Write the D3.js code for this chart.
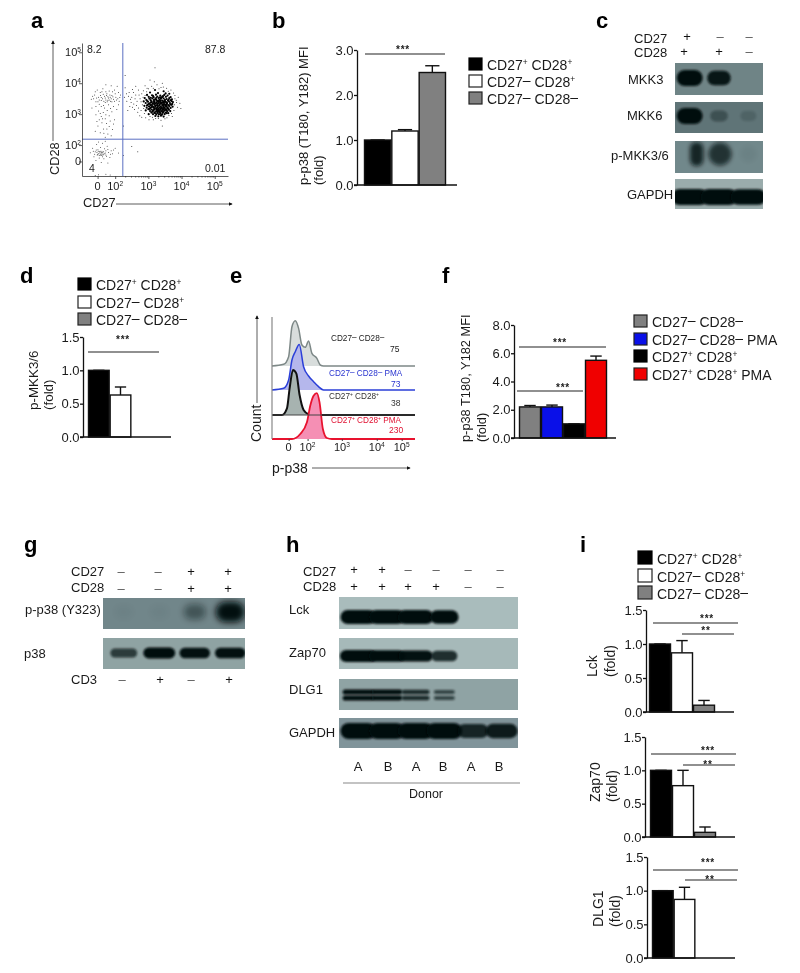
<!DOCTYPE html>
<html>
<head>
<meta charset="utf-8">
<script src="https://cdn.jsdelivr.net/npm/d3@7"></script>
<style>
body { margin: 0; background: #fff; }
svg { opacity: 0.999; }
text { font-family: "Liberation Sans", Arial, sans-serif; fill: #1a1a1a; }
</style>
</head>
<body>
<script>
// panel a, flow plot. all dots in decades on both axes, read by eye
var flowCore = [
[3.2,3.78],[3.46,3.74],[3.05,3.7],[3.29,3.68],[3.52,3.67],[3.63,3.66],[2.96,3.62],[3.11,3.61],[3.23,3.63],[3.36,3.6],[3.48,3.62],[3.58,3.6],
[3.01,3.56],[3.16,3.55],[3.27,3.57],[3.41,3.55],[3.53,3.56],[3.67,3.55],[2.89,3.52],[3.03,3.5],[3.12,3.51],[3.21,3.49],[3.31,3.52],[3.38,3.5],[3.46,3.51],[3.55,3.49],[3.63,3.52],[3.71,3.48],
[2.94,3.46],[3.07,3.45],[3.17,3.46],[3.25,3.44],[3.34,3.46],[3.42,3.44],[3.5,3.46],[3.59,3.44],[3.68,3.45],[2.86,3.41],[2.99,3.4],[3.1,3.41],[3.19,3.39],[3.28,3.41],[3.36,3.39],[3.45,3.41],[3.53,3.39],[3.62,3.41],[3.74,3.39],
[2.92,3.36],[3.04,3.35],[3.14,3.36],[3.22,3.34],[3.31,3.36],[3.39,3.34],[3.48,3.36],[3.56,3.34],[3.65,3.36],[3.72,3.33],[2.98,3.31],[3.08,3.3],[3.18,3.31],[3.26,3.29],[3.34,3.31],[3.42,3.29],[3.51,3.31],[3.6,3.29],[3.69,3.3],
[2.88,3.27],[3.02,3.25],[3.12,3.26],[3.21,3.24],[3.29,3.26],[3.37,3.24],[3.46,3.26],[3.54,3.24],[3.63,3.26],[3.73,3.24],[2.95,3.21],[3.06,3.2],[3.16,3.21],[3.24,3.19],[3.33,3.21],[3.41,3.19],[3.49,3.21],[3.58,3.19],[3.67,3.2],
[3.0,3.16],[3.1,3.15],[3.19,3.16],[3.28,3.14],[3.36,3.16],[3.44,3.14],[3.53,3.16],[3.62,3.14],[2.92,3.12],[3.05,3.1],[3.14,3.11],[3.23,3.09],[3.31,3.11],[3.39,3.09],[3.48,3.11],[3.57,3.09],[3.66,3.1],
[3.09,3.05],[3.18,3.06],[3.27,3.04],[3.35,3.06],[3.43,3.04],[3.52,3.05],[3.6,3.03],[3.01,3.0],[3.14,3.0],[3.24,2.99],[3.32,3.0],[3.41,2.98],[3.49,3.0],[3.21,2.94],[3.3,2.93],[3.38,2.95],[3.46,2.92],
[3.13,3.33],[3.25,3.37],[3.33,3.28],[3.44,3.32],[3.4,3.22],[3.3,3.17],[3.21,3.27],[3.35,3.13],[3.47,3.17],[3.16,3.13],[3.26,3.11],[3.41,3.1],[3.52,3.27],[3.58,3.22],[3.46,3.37],[3.3,3.44],[3.37,3.43],[3.15,3.23],[3.07,3.28],[3.55,3.12],
[3.08,3.38],[3.17,3.42],[3.23,3.47],[3.32,3.4],[3.41,3.37],[3.5,3.42],[3.56,3.37],[3.61,3.47],[3.66,3.32],[3.1,3.23],[3.19,3.19],[3.27,3.22],[3.38,3.19],[3.45,3.23],[3.51,3.14],[3.6,3.17],[3.04,3.17],[3.12,3.08],[3.2,3.03],[3.29,3.08],
[3.37,3.01],[3.45,3.07],[3.55,3.03],[3.24,3.53],[3.35,3.54],[3.44,3.58],[3.14,3.59],[3.07,3.53],[2.96,3.28],[2.97,3.42],[3.02,3.33],[3.7,3.42],[3.25,3.16],[3.33,3.07],[3.42,3.15],[3.18,3.36],[3.28,3.33],[3.36,3.35],[3.47,3.3],[3.55,3.3]
];
var flowMid = [
[2.3,3.85],[2.42,3.7],[2.5,3.55],[2.35,3.42],[2.56,3.33],[2.44,3.25],[2.62,3.62],[2.7,3.78],[2.66,3.42],[2.75,3.5],[2.8,3.66],[2.58,3.15],[2.7,3.2],[2.82,3.3],[2.78,3.12],[2.88,3.02],[2.74,2.95],[2.92,2.88],[3.02,2.82],
[2.52,3.8],[2.38,3.12],[2.28,3.55],[2.85,3.76],[2.96,3.84],[2.9,3.92],[3.1,3.9],[3.26,3.95],[3.38,3.86],[3.55,3.84],[3.68,3.78],[3.8,3.6],[3.84,3.45],[3.79,3.3],[3.88,3.22],[3.77,3.12],[3.7,3.02],[3.62,2.96],[3.5,2.85],[3.38,2.8],[3.22,2.86],[3.12,2.9],
[3.2,4.5],[3.05,4.1],[2.3,4.25],[3.42,2.62],[2.5,1.95],[2.68,1.78],[3.95,3.35],[2.25,2.62],[3.18,4.05],
[2.34,3.66],[2.46,3.48],[2.55,3.7],[2.6,3.5],[2.64,3.28],[2.72,3.62],[2.78,3.4],[2.84,3.55],[2.86,3.18],[2.48,3.38],[2.4,3.58],[2.52,3.22],[2.68,3.06],[2.8,2.9],[2.95,3.72],[3.0,3.82],[3.15,3.84],[3.32,3.82],[3.45,3.88],[3.6,3.74],
[3.76,3.68],[3.8,3.5],[3.85,3.38],[3.72,2.92],[3.56,2.88],[3.3,2.86],[3.15,2.82],[3.05,2.92],[2.85,3.42],[2.9,3.6],[3.9,3.55],[3.98,3.18],[3.42,4.0],[2.62,3.9]
];
var flowLeft = [
[1.28,3.48],[1.38,3.62],[1.42,3.4],[1.5,3.55],[1.55,3.7],[1.58,3.44],[1.63,3.82],[1.68,3.58],[1.72,3.46],[1.75,3.66],[1.8,3.52],[1.82,3.75],[1.86,3.42],[1.9,3.6],[1.95,3.48],[1.98,3.78],[2.02,3.55],[2.06,3.9],[2.12,3.42],[2.16,3.62],
[1.46,3.78],[1.62,3.5],[1.7,3.38],[1.78,3.45],[1.85,3.55],[1.92,3.72],[2.08,3.5],[1.35,3.5],[1.52,3.32],[1.65,3.28],[1.8,3.3],[1.95,3.25],[2.1,3.7],[1.88,3.92],[1.72,3.95],
[1.42,2.98],[1.5,3.1],[1.58,2.92],[1.64,3.05],[1.7,2.85],[1.76,3.12],[1.82,2.95],[1.9,3.08],[1.98,2.82],[1.74,2.7],[1.6,2.72],[1.48,2.62],[1.82,2.6],[1.92,2.5],[1.65,2.52],[1.55,2.4],[1.78,2.36],[1.88,2.3],[1.4,2.45],[1.7,2.25],[2.05,3.15],[1.3,3.2],
[1.32,3.58],[1.44,3.52],[1.52,3.46],[1.56,3.6],[1.6,3.72],[1.66,3.42],[1.7,3.52],[1.74,3.6],[1.78,3.56],[1.76,3.4],[1.84,3.62],[1.88,3.5],[1.93,3.56],[1.98,3.42],[2.04,3.46],[2.0,3.66],[1.58,3.54],[1.64,3.64],[1.82,3.46],[1.72,3.72],
[1.48,3.4],[1.4,3.72],[1.9,3.4],[2.14,3.54],[1.68,3.2],[1.86,3.18],[1.55,3.02],[1.72,2.98],[1.85,2.78],[1.62,2.85],[1.95,2.68],[1.52,2.82],[1.75,2.52],[1.66,2.38],[1.45,2.76],[1.58,3.25],[2.1,3.3],[1.42,3.25]
];
var flowLow = [
[1.25,1.75],[1.32,1.9],[1.36,1.62],[1.4,1.78],[1.44,2.02],[1.46,1.68],[1.48,1.85],[1.52,1.58],[1.54,1.74],[1.56,1.92],[1.58,1.66],[1.6,1.8],[1.62,2.06],[1.64,1.7],[1.66,1.56],[1.68,1.88],[1.7,1.74],[1.74,1.64],[1.76,1.96],[1.8,1.76],[1.84,1.6],[1.88,1.82],[1.92,1.72],[2.0,1.9],[2.1,1.74],[2.25,1.66],
[1.5,1.72],[1.55,1.8],[1.6,1.72],[1.65,1.78],[1.45,1.76],[1.52,1.66],[1.58,1.76],[1.62,1.62],[1.72,1.82],[1.42,1.5],[1.58,1.44],[1.78,1.42],[1.5,2.1],[1.7,2.12],
[1.4,1.02],[1.5,1.04],[1.72,1.06],[1.85,1.03],
[1.47,1.7],[1.53,1.78],[1.57,1.7],[1.61,1.76],[1.49,1.8],[1.55,1.68],[1.63,1.68],[1.67,1.72],[1.43,1.84],[1.38,1.7],[1.72,1.68],[1.78,1.86],[1.34,1.8],[1.86,1.7],[1.95,1.84]
];
var flowTicks = [1.47, 2, 3, 4, 5];
var flowTickLabels = ['0', '10^2', '10^3', '10^4', '10^5'];
var flowGate = [2.23, 2.19];
var quadrantLabels = ['8.2', '87.8', '4', '0.01'];

// bar panels
var labelsBD = ['CD27^+ CD28^+', 'CD27– CD28^+', 'CD27– CD28–'];
var labelsF = ['CD27– CD28–', 'CD27– CD28– PMA', 'CD27^+ CD28^+', 'CD27^+ CD28^+ PMA'];
var barColors = ['#000', '#fff', '#808080'];
var barColorsF = ['#808080', '#0a10e8', '#000', '#f00000'];

var bValues = [1.0, 1.2, 2.5];
var bErrors = [1.0, 1.23, 2.65];
var bTicks = [0, 1, 2, 3];
var dValues = [1.0, 0.63, null];
var dErrors = [1.0, 0.75, null];
var fValues = [2.2, 2.2, 1.0, 5.5];
var fErrors = [2.3, 2.33, 1.0, 5.8];
var fTicks = [0, 2, 4, 6, 8];
var foldTicks = [0, 0.5, 1, 1.5];
var lckValues = [1.0, 0.87, 0.1];
var lckErrors = [1.0, 1.05, 0.17];
var zapValues = [1.0, 0.77, 0.07];
var zapErrors = [1.0, 1.0, 0.15];
var dlgValues = [1.0, 0.87, null];
var dlgErrors = [1.0, 1.05, null];

// panel e histograms, [channel, count]
var histGrey = [[0,0],[35,5],[50,28],[60,118],[70,136],[80,113],[90,63],[100,56],[110,75],[120,38],[135,23],[145,3],[155,0],[430,0]];
var histBlue = [[0,0],[35,5],[50,30],[60,90],[70,115],[82,137],[95,70],[110,42],[125,25],[140,10],[155,0],[430,0]];
var histBlack = [[0,0],[30,0],[45,20],[53,80],[63,135],[73,125],[83,60],[95,15],[110,2],[120,0],[430,0]];
var histRed = [[0,0],[60,0],[85,15],[105,50],[115,100],[125,130],[135,138],[143,110],[153,30],[165,3],[180,0],[430,0]];
var histTicks = [50, 107, 210, 315, 390];
var histTickLabels = ['0', '10^2', '10^3', '10^4', '10^5'];

// blots, band strength per lane
var cLanesCD27 = ['+', '–', '–'];
var cLanesCD28 = ['+', '+', '–'];
var mkk3 = [1, 0.8, 0];
var mkk6 = [1, 0.3, 0.14];
var pMkk = [0.7, 0.6, 0.04];
var gapdhC = [1, 1, 0.95];

var gLanesCD27 = ['–', '–', '+', '+'];
var gLanesCD28 = ['–', '–', '+', '+'];
var gLanesCD3 = ['–', '+', '–', '+'];
var pP38 = [0.03, 0.03, 0.35, 0.85];
var p38 = [0.6, 0.95, 0.85, 0.85];

var hLanesCD27 = ['+', '+', '–', '–', '–', '–'];
var hLanesCD28 = ['+', '+', '+', '+', '–', '–'];
var hDonors = ['A', 'B', 'A', 'B', 'A', 'B'];
var lck = [1, 1, 1, 0.95, 0, 0];
var zap70 = [1, 0.95, 0.85, 0.7, 0, 0];
var dlg1 = [0.95, 0.9, 0.7, 0.55, 0, 0];
var gapdhH = [1, 1, 1, 1, 0.72, 0.78];

var svg = d3.select('body').append('svg').attr('width', 800).attr('height', 973);
var defs = svg.append('defs');

[1.3, 2, 3.2].forEach(function(s, i) {
  defs.append('filter').attr('id', 'blur' + i)
  .attr('x', '-40%').attr('y', '-80%').attr('width', '180%').attr('height', '260%')
  .append('feGaussianBlur').attr('stdDeviation', s);
});

var arrowHead = defs.append('marker').attr('id', 'head')
.attr('viewBox', '0 0 6 6').attr('refX', 5).attr('refY', 3)
.attr('markerWidth', 5).attr('markerHeight', 5).attr('orient', 'auto');
arrowHead.append('path').attr('d', 'M0,0L6,3L0,6Z').attr('fill', '#111');

// '^' puts the next char up small, a dash goes up a little
var richText = function(sel, str, size) {
  sel.attr('font-size', size);
  var parts = str.match(/\^.|–|[^\^–]+/g);
  parts.forEach(function(p) {
    if (p[0] === '^') {
      sel.append('tspan').text(p[1]).attr('font-size', size * 0.6).attr('baseline-shift', size * 0.36);
    } else if (p === '–') {
      sel.append('tspan').text(p).attr('baseline-shift', size * 0.16);
    } else {
      sel.append('tspan').text(p);
    }
  });
  return sel;
};

var put = function(x, y, str, size, anchor, color) {
  var t = svg.append('text').attr('x', x).attr('y', y).attr('text-anchor', anchor || 'start');
  richText(t, str, size);
  if (color) t.style('fill', color);
  return t;
};

var putUp = function(x, y, str, size) {
  return svg.append('text').attr('transform', 'translate(' + x + ',' + y + ') rotate(-90)')
  .attr('font-size', size).text(str);
};

var arrow = function(x1, y1, x2, y2) {
  svg.append('line').attr('x1', x1).attr('y1', y1).attr('x2', x2).attr('y2', y2)
  .attr('stroke', '#333').attr('stroke-width', 0.8).attr('marker-end', 'url(#head)');
};

// panel letters
[['a', 31, 28], ['b', 272, 28], ['c', 596, 28], ['d', 20, 283], ['e', 230, 283], ['f', 442, 283], ['g', 24, 552], ['h', 286, 552], ['i', 580, 552]].forEach(function(l) {
  svg.append('text').attr('x', l[1]).attr('y', l[2]).attr('font-size', 22).attr('font-weight', 'bold').style('fill', '#000').text(l[0]);
});

var legend = function(labels, colors, x, ys, swatch, textX, size) {
  labels.forEach(function(lab, i) {
    svg.append('rect').attr('x', x).attr('y', ys[i] - swatch + 1).attr('width', swatch).attr('height', swatch - 1)
    .attr('fill', colors[i]).attr('stroke', colors[i] === '#000' ? '#000' : '#222').attr('stroke-width', 1.2);
    put(textX, ys[i], lab, size);
  });
};

var barChart = function(o) {
  var y = d3.scaleLinear().domain([0, o.top]).range([o.y0, o.y1]);
  var x = d3.scaleBand().domain(d3.range(o.values.length)).range(o.bars);
  var g = svg.append('g');

  var points = o.values.map(function(v, i) { return {v: v, e: o.errors[i], i: i}; }).filter(function(d) { return d.v !== null; });

  var cap = x.bandwidth() * 0.26;
  g.selectAll('line.err').data(points).enter().append('line').attr('class', 'err')
  .attr('x1', function(d) { return x(d.i) + x.bandwidth() / 2; })
  .attr('x2', function(d) { return x(d.i) + x.bandwidth() / 2; })
  .attr('y1', function(d) { return y(d.v); })
  .attr('y2', function(d) { return y(d.e); })
  .attr('stroke', '#111').attr('stroke-width', 1.4);
  g.selectAll('line.cap').data(points).enter().append('line').attr('class', 'cap')
  .attr('x1', function(d) { return x(d.i) + x.bandwidth() / 2 - cap; })
  .attr('x2', function(d) { return x(d.i) + x.bandwidth() / 2 + cap; })
  .attr('y1', function(d) { return y(d.e); })
  .attr('y2', function(d) { return y(d.e); })
  .attr('stroke', '#111').attr('stroke-width', 1.4);

  g.selectAll('rect').data(points).enter().append('rect')
  .attr('x', function(d) { return x(d.i) + 0.5; })
  .attr('y', function(d) { return y(d.v); })
  .attr('width', x.bandwidth() - 1)
  .attr('height', function(d) { return y(0) - y(d.v); })
  .attr('fill', function(d) { return o.colors[d.i]; })
  .attr('stroke', '#111').attr('stroke-width', 1.4);

  var yAxis = d3.axisLeft(y).tickValues(o.ticks).tickFormat(d3.format('.1f')).tickSize(3).tickPadding(0.5).tickSizeOuter(0);
  var ax = g.append('g').attr('transform', 'translate(' + o.axisX + ',0)').call(yAxis);
  ax.selectAll('text').attr('font-size', o.fontSize || 13).style('fill', '#1a1a1a');
  ax.selectAll('line,path').attr('stroke', '#111').attr('stroke-width', 1.3);

  g.append('line').attr('x1', o.axisX - 3).attr('x2', o.xEnd).attr('y1', y(0)).attr('y2', y(0))
  .attr('stroke', '#111').attr('stroke-width', 1.3);

  o.sig.forEach(function(s) {
    g.append('line').attr('x1', s[0]).attr('x2', s[1]).attr('y1', s[2]).attr('y2', s[2])
    .attr('stroke', '#222').attr('stroke-width', 1.2);
    g.append('text').attr('x', s[3]).attr('y', s[2] + s[4]).attr('text-anchor', 'middle')
    .attr('font-size', 10).attr('letter-spacing', 0.8).attr('font-weight', 'bold').text(s[5]);
  });
};

// ---- a
var fx = d3.scaleLinear().domain([1, 5.4]).range([82, 228]);
var fy = d3.scaleLinear().domain([1, 5.3]).range([176, 43]);

var dots = function(list, r, color) {
  svg.append('g').selectAll('circle').data(list).enter().append('circle')
  .attr('cx', function(d) { return fx(d[0]); })
  .attr('cy', function(d) { return fy(d[1]); })
  .attr('r', r).attr('fill', color);
};
dots(flowLeft, 0.5, '#333');
dots(flowLow, 0.5, '#444');
dots(flowMid, 0.5, '#222');
dots(flowCore, 1.1, '#000');

svg.append('line').attr('x1', fx(flowGate[0])).attr('x2', fx(flowGate[0])).attr('y1', fy(5.3)).attr('y2', fy(1))
.attr('stroke', '#5b6fc2').attr('stroke-width', 1);
svg.append('line').attr('x1', fx(1)).attr('x2', fx(5.4)).attr('y1', fy(flowGate[1])).attr('y2', fy(flowGate[1]))
.attr('stroke', '#5b6fc2').attr('stroke-width', 1);

var minors = [];
[2, 3, 4].forEach(function(d) {
  [2, 3, 4, 5, 6, 7, 8, 9].forEach(function(m) { minors.push(d + Math.log10(m)); });
});

var flowYAxis = svg.append('g').attr('transform', 'translate(' + fx(1) + ',0)')
.call(d3.axisLeft(fy).tickValues(flowTicks).tickFormat('').tickSize(3).tickSizeOuter(0));
var flowXAxis = svg.append('g').attr('transform', 'translate(0,' + fy(1) + ')')
.call(d3.axisBottom(fx).tickValues(flowTicks).tickFormat('').tickSize(3).tickSizeOuter(0));
var flowXMinor = svg.append('g').attr('transform', 'translate(0,' + fy(1) + ')')
.call(d3.axisBottom(fx).tickValues(minors).tickFormat('').tickSize(1.5).tickSizeOuter(0));
flowXMinor.select('path').remove();
[flowYAxis, flowXAxis, flowXMinor].forEach(function(a) {
  a.selectAll('line,path').attr('stroke', '#333').attr('stroke-width', 0.8);
});

flowTicks.forEach(function(t, i) {
  put(fx(t), 190, flowTickLabels[i], 11, 'middle');
  put(fx(1) - 1, fy(t) + 4, flowTickLabels[i], 11, 'end');
});
put(87, 53, quadrantLabels[0], 10.5);
put(205, 53, quadrantLabels[1], 10.5);
put(89, 172, quadrantLabels[2], 10.5);
put(205, 172, quadrantLabels[3], 10.5);
put(83, 207, 'CD27', 12.8);
arrow(116, 204, 232, 204);
putUp(59, 175, 'CD28', 12.8);
arrow(53, 141, 53, 41);

// ---- b
barChart({values: bValues, errors: bErrors, colors: barColors, ticks: bTicks, top: 3, y0: 185, y1: 50,
  bars: [364, 446], axisX: 357, xEnd: 457, sig: [[365, 445, 54, 403, -1.5, '***']]});
legend(labelsBD, barColors, 469, [70, 87, 104], 13, 487, 14);
putUp(308, 185, 'p-p38 (T180, Y182) MFI', 13);
putUp(323, 185, '(fold)', 13);

// ---- d
barChart({values: dValues, errors: dErrors, colors: barColors, ticks: foldTicks, top: 1.5, y0: 437, y1: 337,
  bars: [88, 153], axisX: 83, xEnd: 171, sig: [[88, 159, 352, 123, -9.5, '***']]});
legend(labelsBD, barColors, 78, [290, 308, 325], 13, 96, 14);
putUp(38, 410, 'p-MKK3/6', 13.4);
putUp(53, 410, '(fold)', 13.4);

// ---- e
var hx = d3.scaleLinear().domain([0, 430]).range([272, 415]);
var histH = d3.scaleLinear().domain([0, 100]).range([0, 33.3]);

var histo = function(data, base, fill, stroke, sw) {
  var area = d3.area().x(function(d) { return hx(d[0]); }).y0(base).y1(function(d) { return base - histH(d[1]); }).curve(d3.curveMonotoneX);
  var line = d3.line().x(function(d) { return hx(d[0]); }).y(function(d) { return base - histH(d[1]); }).curve(d3.curveMonotoneX);
  svg.append('path').datum(data).attr('d', area).attr('fill', fill);
  svg.append('path').datum(data).attr('d', line).attr('fill', 'none').attr('stroke', stroke).attr('stroke-width', sw);
};
histo(histGrey, 366, '#d8dddc', '#7d8887', 1.5);
histo(histBlue, 390, '#b5b7ec', '#2b3fd8', 1.5);
histo(histBlack, 415, '#a7b3b0', '#111', 2);
histo(histRed, 439, '#f58fb4', '#e8122e', 1.8);
svg.append('line').attr('x1', hx(0)).attr('x2', hx(430)).attr('y1', 415).attr('y2', 415).attr('stroke', '#444').attr('stroke-width', 1.2);
svg.append('line').attr('x1', 272).attr('x2', 272).attr('y1', 317).attr('y2', 439).attr('stroke', '#888').attr('stroke-width', 1.2);

var histAxis = svg.append('g').attr('transform', 'translate(0,439)')
.call(d3.axisBottom(hx).tickValues(histTicks).tickFormat('').tickSize(2).tickSizeOuter(0));
histAxis.selectAll('line').attr('stroke', '#444');
histAxis.select('path').remove();
histTicks.forEach(function(t, i) {
  put(hx(t), 451, histTickLabels[i], 11, 'middle');
});

put(331, 341, 'CD27– CD28–', 8.2);
put(390, 352, '75', 8.5);
put(329, 376, 'CD27– CD28– PMA', 8.2, 'start', '#2a35d0');
put(391, 387, '73', 8.5, 'start', '#2a35d0');
put(329, 399, 'CD27^+ CD28^+', 8.2, 'start', '#333');
put(391, 406, '38', 8.5, 'start', '#333');
put(331, 423, 'CD27^+ CD28^+ PMA', 8.2, 'start', '#e01030');
put(389, 433, '230', 8.5, 'start', '#e01030');
putUp(261, 442, 'Count', 14);
arrow(257, 403, 257, 316);
put(272, 473, 'p-p38', 14);
arrow(312, 468, 410, 468);

// ---- f
barChart({values: fValues, errors: fErrors, colors: barColorsF, ticks: fTicks, top: 8, y0: 438, y1: 325,
  bars: [519, 607], axisX: 514, xEnd: 616, sig: [[519, 606, 347, 560, -1.5, '***'], [517, 583, 391, 563, -0.5, '***']]});
legend(labelsF, barColorsF, 634, [327, 345, 362, 380], 13, 652, 14);
putUp(470, 442, 'p-p38 T180, Y182 MFI', 12.8);
putUp(486, 442, '(fold)', 12.8);

// ---- i
var iCharts = [
  {values: lckValues, errors: lckErrors, axisX: 646, y0: 712, y1: 610, bars: [649, 715], xEnd: 734, sig: [[653, 738, 623, 707, -1.5, '***'], [682, 734, 634, 706, -0.5, '**']], name: 'Lck', lx: 597, fx: 615, ly: 677},
  {values: zapValues, errors: zapErrors, axisX: 645, y0: 837, y1: 737, bars: [650, 716], xEnd: 735, sig: [[651, 736, 754, 708, -0.5, '***'], [683, 735, 765, 708, 2.5, '**']], name: 'Zap70', lx: 600, fx: 617, ly: 802},
  {values: dlgValues, errors: dlgErrors, axisX: 647, y0: 958, y1: 857, bars: [652, 717], xEnd: 735, sig: [[653, 738, 870, 708, -4.5, '***'], [685, 737, 880, 710, 2.5, '**']], name: 'DLG1', lx: 603, fx: 620, ly: 927}
];
iCharts.forEach(function(c) {
  barChart({values: c.values, errors: c.errors, colors: barColors, ticks: foldTicks, top: 1.5, y0: c.y0, y1: c.y1,
    bars: c.bars, axisX: c.axisX, xEnd: c.xEnd, sig: c.sig});
  putUp(c.lx, c.ly, c.name, 14);
  putUp(c.fx, c.ly, '(fold)', 14);
});
legend(labelsBD, barColors, 638, [564, 582, 599], 14, 657, 14);

// ---- blots
var blotCount = 0;
var blot = function(o) {
  var id = 'clip' + (blotCount++);
  defs.append('clipPath').attr('id', id).append('rect').attr('x', o.x0).attr('y', o.y0).attr('width', o.x1 - o.x0).attr('height', o.y1 - o.y0);
  var g = svg.append('g').attr('clip-path', 'url(#' + id + ')');
  g.append('rect').attr('x', o.x0).attr('y', o.y0).attr('width', o.x1 - o.x0).attr('height', o.y1 - o.y0).attr('fill', o.bg);

  var lane = d3.scaleBand().domain(d3.range(o.values.length)).range(o.lanes);
  var halfW = function(d, i) { return lane.bandwidth() * o.rw * (0.55 + 0.45 * d) * (o.narrow ? o.narrow[i] : 1); };
  var halfH = function(d) { return o.ry * (0.55 + 0.45 * d); };
  var offsets = o.offsets || [0];
  offsets.forEach(function(off) {
    // rounded bars so that neighbouring lanes run together like on the film
    g.append('g').selectAll('rect').data(o.values).enter().append('rect')
    .attr('x', function(d, i) { return lane(i) + lane.bandwidth() / 2 + (o.shift ? o.shift[i] : 0) - halfW(d, i); })
    .attr('y', function(d) { return o.cy + off - halfH(d); })
    .attr('width', function(d, i) { return 2 * halfW(d, i); })
    .attr('height', function(d) { return 2 * halfH(d); })
    .attr('rx', function(d, i) { return Math.min(halfW(d, i), halfH(d)); })
    .attr('fill', '#050b0c')
    .attr('opacity', function(d) { return Math.min(1, d * 1.15); })
    .attr('filter', 'url(#blur' + (o.blur === undefined ? 1 : o.blur) + ')');
  });
};

var signs = function(list, xs, y) {
  list.forEach(function(s, i) {
    svg.append('text').attr('x', xs[i]).attr('y', y).attr('text-anchor', 'middle')
    .attr('font-size', 13).style('fill', s === '–' ? '#555' : '#111').text(s);
  });
};

// c
var cLanes = [675, 763];
blot({x0: 675, x1: 763, y0: 63, y1: 95, bg: '#6f8486', values: mkk3, lanes: cLanes, cy: 78, ry: 8, rw: 0.44, blur: 0});
blot({x0: 675, x1: 763, y0: 102, y1: 133, bg: '#5f7477', values: mkk6, lanes: cLanes, cy: 116, ry: 8, rw: 0.44, blur: 0});
blot({x0: 675, x1: 763, y0: 141, y1: 173, bg: '#71888b', values: pMkk, lanes: cLanes, cy: 154, ry: 14, rw: 0.48, blur: 1, shift: [7, 1, 0], narrow: [0.55, 1, 1]});
blot({x0: 675, x1: 763, y0: 179, y1: 209, bg: '#9aacac', values: gapdhC, lanes: cLanes, cy: 197, ry: 8, rw: 0.62, blur: 0});
put(634, 43, 'CD27', 13);
put(634, 57, 'CD28', 13);
signs(cLanesCD27, [687, 720, 749], 41);
signs(cLanesCD28, [684, 719, 749], 56);
put(628, 84, 'MKK3', 13);
put(627, 120, 'MKK6', 13);
put(611, 160, 'p-MKK3/6', 13);
put(627, 199, 'GAPDH', 13);

// g
var gLanes = [106, 248];
blot({x0: 103, x1: 245, y0: 598, y1: 629, bg: '#71868a', values: pP38, lanes: gLanes, cy: 612, ry: 11, rw: 0.44, blur: 2});
blot({x0: 103, x1: 245, y0: 638, y1: 669, bg: '#8fa3a3', values: p38, lanes: gLanes, cy: 653, ry: 5.5, rw: 0.46, blur: 0});
put(71, 576, 'CD27', 13);
put(71, 592, 'CD28', 13);
put(71, 684, 'CD3', 13);
signs(gLanesCD27, [121, 158, 191, 228], 576);
signs(gLanesCD28, [121, 158, 191, 228], 593);
signs(gLanesCD3, [122, 160, 191, 229], 684);
put(25, 614, 'p-p38 (Y323)', 13);
put(24, 658, 'p38', 13);

// h
var hLanes = [344, 516];
var endLanes = [1, 1, 1, 0.82, 1, 1];
blot({x0: 339, x1: 518, y0: 597, y1: 629, bg: '#a9bcbc', values: lck, lanes: hLanes, cy: 617, ry: 7, rw: 0.62, blur: 0, narrow: endLanes});
blot({x0: 339, x1: 518, y0: 638, y1: 669, bg: '#a6b9b9', values: zap70, lanes: hLanes, cy: 656, ry: 6, rw: 0.64, blur: 0, narrow: endLanes});
blot({x0: 339, x1: 518, y0: 679, y1: 710, bg: '#8fa3a4', values: dlg1, lanes: hLanes, cy: 692, ry: 2.6, rw: 0.56, blur: 0, offsets: [0, 6], narrow: endLanes});
blot({x0: 339, x1: 518, y0: 718, y1: 748, bg: '#80949a', values: gapdhH, lanes: hLanes, cy: 731, ry: 8, rw: 0.62, blur: 0});
put(303, 576, 'CD27', 13);
put(303, 591, 'CD28', 13);
var hSignX = [354, 382, 408, 436, 468, 500];
signs(hLanesCD27, hSignX, 574);
signs(hLanesCD28, hSignX, 591);
put(289, 614, 'Lck', 13);
put(289, 657, 'Zap70', 13);
put(289, 694, 'DLG1', 13);
put(289, 737, 'GAPDH', 13);
var hDonorX = [358, 388, 416, 443, 471, 499];
hDonors.forEach(function(d, i) { put(hDonorX[i], 771, d, 13, 'middle'); });
svg.append('line').attr('x1', 343).attr('x2', 520).attr('y1', 783).attr('y2', 783).attr('stroke', '#888').attr('stroke-width', 1.2);
put(426, 798, 'Donor', 12.5, 'middle');
</script>
</body>
</html>
